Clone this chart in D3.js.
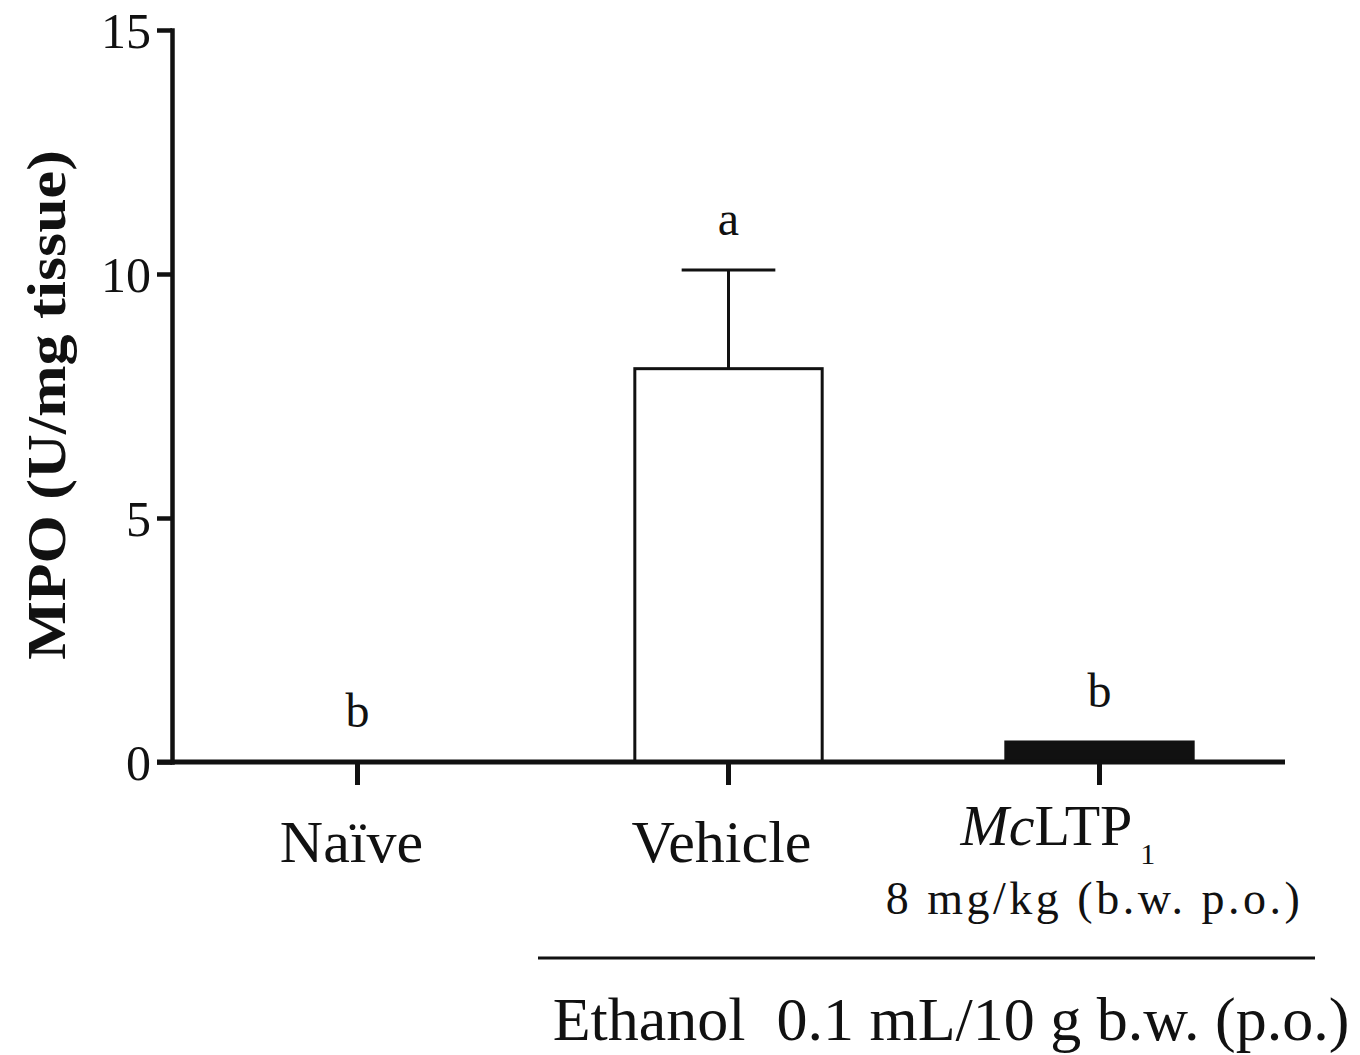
<!DOCTYPE html>
<html>
<head>
<meta charset="utf-8">
<script src="https://cdn.jsdelivr.net/npm/d3@7"></script>
<style>
  body { margin: 0; background: #fff; }
  text { font-family: "Liberation Serif", "Times New Roman", serif; fill: #111; }
</style>
</head>
<body>
<div id="chart"></div>
<script>
const categories = ["Naïve", "Vehicle", "McLTP1"];
const means = [0, 8.06, 0.41];
const sems = [0, 2.02, 0];
const letters = ["b", "a", "b"];
const yTicks = [0, 5, 10, 15];

const width = 1360;
const height = 1055;

const svg = d3.select("#chart").append("svg")
  .attr("width", width)
  .attr("height", height)

const xScale = d3.scaleBand()
  .domain(categories)
  .range([172, 1285])

const yScale = d3.scaleLinear()
  .domain([0, 15])
  .range([762, 30])

const data = categories.map((c, i) => ({
  cat: c, mean: means[i], sem: sems[i], letter: letters[i]
}))

const barFill = { "Naïve": "white", "Vehicle": "white", "McLTP1": "#111" }
const barW = xScale.bandwidth() * 0.505
const cx = c => xScale(c) + xScale.bandwidth() / 2

// bars
svg.selectAll("rect.bar")
  .data(data.filter(d => d.mean > 0))
  .enter()
  .append("rect")
  .attr("class", "bar")
  .attr("x", d => cx(d.cat) - barW / 2)
  .attr("y", d => yScale(d.mean))
  .attr("width", barW)
  .attr("height", d => yScale(0) - yScale(d.mean))
  .attr("fill", d => barFill[d.cat])
  .attr("stroke", "#111")
  .attr("stroke-width", 3)

// error bars
const errs = data.filter(d => d.sem > 0)
svg.selectAll("line.err")
  .data(errs)
  .enter()
  .append("line")
  .attr("x1", d => cx(d.cat))
  .attr("x2", d => cx(d.cat))
  .attr("y1", d => yScale(d.mean))
  .attr("y2", d => yScale(d.mean + d.sem))
  .attr("stroke", "#111")
  .attr("stroke-width", 3)

svg.selectAll("line.cap")
  .data(errs)
  .enter()
  .append("line")
  .attr("x1", d => cx(d.cat) - barW / 4)
  .attr("x2", d => cx(d.cat) + barW / 4)
  .attr("y1", d => yScale(d.mean + d.sem))
  .attr("y2", d => yScale(d.mean + d.sem))
  .attr("stroke", "#111")
  .attr("stroke-width", 3)

// significance letters
svg.selectAll("text.sig")
  .data(data)
  .enter()
  .append("text")
  .attr("class", "sig")
  .attr("text-anchor", "middle")
  .attr("font-size", 48)
  .attr("x", d => cx(d.cat))
  .attr("y", d => yScale(d.mean + d.sem) - 35)
  .text(d => d.letter)

// y axis
const gy = svg.append("g")
  .attr("transform", "translate(172, 0)")
  .call(d3.axisLeft(yScale).tickValues(yTicks).tickSize(15).tickPadding(6).tickSizeOuter(0))

gy.select(".domain").attr("stroke", "#111").attr("stroke-width", 4.5).attr("stroke-linecap", "square")
gy.selectAll(".tick line").attr("stroke", "#111").attr("stroke-width", 4.5)
gy.selectAll(".tick text")
  .attr("font-family", "Liberation Serif")
  .attr("font-size", 50)
  .attr("fill", "#111")
  .attr("dy", "0.34em")

// x axis
const gx = svg.append("g")
  .attr("transform", "translate(0, 762)")
  .call(d3.axisBottom(xScale).tickSize(23).tickSizeOuter(0).tickFormat(""))

gx.select(".domain").attr("stroke", "#111").attr("stroke-width", 5).attr("d", "M157,0H1285")
gx.selectAll(".tick line").attr("stroke", "#111").attr("stroke-width", 5)

// category labels
svg.append("text")
  .attr("text-anchor", "middle")
  .attr("font-size", 60)
  .attr("x", cx("Naïve") - 6)
  .attr("y", 862)
  .text("Naïve")

svg.append("text")
  .attr("text-anchor", "middle")
  .attr("font-size", 60)
  .attr("x", cx("Vehicle") - 7)
  .attr("y", 862)
  .text("Vehicle")

const ltp = svg.append("text")
  .attr("font-size", 58)
  .attr("x", cx("McLTP1") - 139)
  .attr("y", 845)
ltp.append("tspan").attr("font-style", "italic").text("Mc")
ltp.append("tspan").text("LTP")
ltp.append("tspan").attr("font-size", 30).attr("dx", 8).attr("dy", 19).text("1")

svg.append("text")
  .attr("text-anchor", "middle")
  .attr("font-size", 46)
  .attr("letter-spacing", 3.5)
  .attr("x", cx("McLTP1") - 5)
  .attr("y", 914)
  .text("8 mg/kg (b.w. p.o.)")

// treatment bracket
svg.append("line")
  .attr("x1", 538)
  .attr("x2", 1315)
  .attr("y1", 958)
  .attr("y2", 958)
  .attr("stroke", "#111")
  .attr("stroke-width", 3)

svg.append("text")
  .attr("text-anchor", "middle")
  .attr("font-size", 62)
  .style("white-space", "pre")
  .attr("x", 951)
  .attr("y", 1040)
  .text("Ethanol  0.1 mL/10 g b.w. (p.o.)")

// y label
svg.append("text")
  .attr("text-anchor", "middle")
  .attr("font-size", 62)
  .attr("font-weight", "bold")
  .attr("transform", "translate(65, 405) scale(0.87,1) rotate(-90)")
  .text("MPO (U/mg tissue)")
</script>
</body>
</html>
